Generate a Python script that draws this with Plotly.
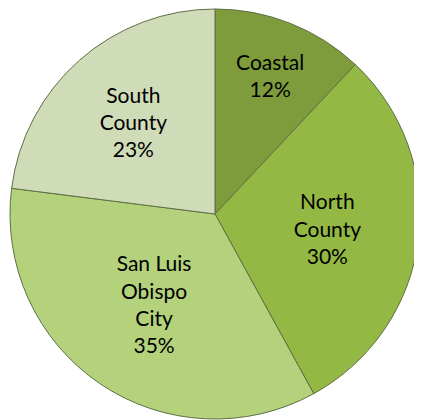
import plotly.graph_objects as go

categories = ["Coastal", "North County", "San Luis Obispo City", "South County"]
label_text = ["Coastal<br>12%", "North<br>County<br>30%", "San Luis<br>Obispo<br>City<br>35%", "South<br>County<br>23%"]
values = [12, 30, 35, 23]
colors = ["#7f9c3c", "#93b944", "#b3d27b", "#d0dcb7"]

fig = go.Figure(go.Pie(
    labels=categories,
    values=values,
    text=label_text,
    textinfo="text",
    sort=False,
    direction="clockwise",
    rotation=0,
    marker=dict(colors=colors, line=dict(color="#5f6f45", width=1)),
    textposition="inside",
    insidetextorientation="horizontal",
    textfont=dict(family="Lato, Open Sans, sans-serif", size=21, color="#000000"),
    showlegend=False,
    hoverinfo="label+percent",
))
fig.update_layout(
    width=422, height=420,
    margin=dict(l=2, r=10, t=1, b=9),
    paper_bgcolor="white",
    plot_bgcolor="white",
)
fig.write_html("out.html")
